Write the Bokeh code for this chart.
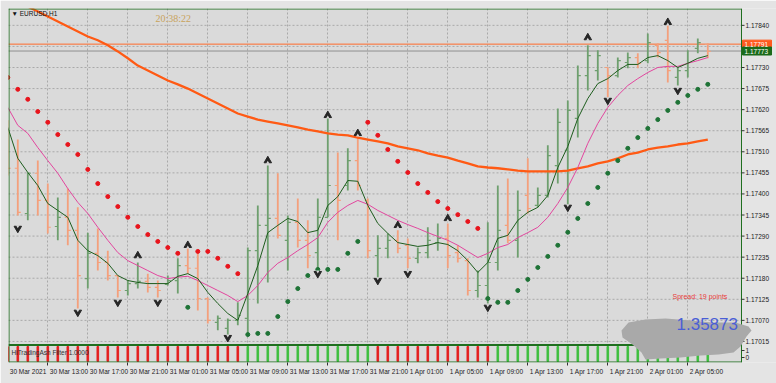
from bokeh.plotting import figure
from bokeh.models import Range1d, FixedTicker, Label, ColumnDataSource
from bokeh.embed import file_html
from bokeh.resources import INLINE
from bokeh.core.properties import value

# ---------------- data (EURUSD, H1) ----------------
time_labels = ["30 Mar 2021", "30 Mar 13:00", "30 Mar 17:00", "30 Mar 21:00", "31 Mar 01:00",
               "31 Mar 05:00", "31 Mar 09:00", "31 Mar 13:00", "31 Mar 17:00", "31 Mar 21:00",
               "1 Apr 01:00", "1 Apr 05:00", "1 Apr 09:00", "1 Apr 13:00", "1 Apr 17:00",
               "1 Apr 21:00", "2 Apr 01:00", "2 Apr 05:00"]
label_bars = [0, 4, 8, 12, 16, 20, 24, 28, 32, 36, 40, 44, 48, 52, 56, 60, 64, 68]
price_ticks = [1.17015, 1.17070, 1.17125, 1.17180, 1.17235, 1.17290, 1.17345, 1.17400,
               1.17455, 1.17510, 1.17565, 1.17620, 1.17675, 1.17730, 1.17785, 1.17840]

open_ = [1.17566, 1.17467, 1.17349, 1.17454, 1.17383, 1.17315, 1.17339, 1.17305, 1.17179, 1.17245,
         1.17221, 1.17187, 1.17148, 1.17166, 1.17172, 1.17156, 1.17164, 1.17174, 1.17213, 1.17206,
         1.17127, 1.17065, 1.17049, 1.17070, 1.17075, 1.17252, 1.17318, 1.17336, 1.17279, 1.17326,
         1.17279, 1.17247, 1.17339, 1.17422, 1.17422, 1.17487, 1.17383, 1.17239, 1.17258, 1.17279,
         1.17266, 1.17232, 1.17247, 1.17273, 1.17284, 1.17247, 1.17226, 1.17148, 1.17161, 1.17221,
         1.17318, 1.17279, 1.17396, 1.17370, 1.17396, 1.17474, 1.17514, 1.17597, 1.17709, 1.17722,
         1.17730, 1.17709, 1.17743, 1.17756, 1.17748, 1.17788, 1.17801, 1.17704, 1.17722, 1.17780,
         1.17790]
high = [1.17592, 1.17542, 1.17456, 1.17487, 1.17427, 1.17391, 1.17414, 1.17365, 1.17299, 1.17310,
        1.17252, 1.17187, 1.17174, 1.17221, 1.17192, 1.17174, 1.17187, 1.17232, 1.17258, 1.17245,
        1.17130, 1.17083, 1.17075, 1.17117, 1.17260, 1.17370, 1.17474, 1.17454, 1.17344, 1.17388,
        1.17331, 1.17388, 1.17610, 1.17508, 1.17519, 1.17560, 1.17388, 1.17292, 1.17297, 1.17305,
        1.17284, 1.17260, 1.17313, 1.17323, 1.17323, 1.17266, 1.17232, 1.17200, 1.17326, 1.17422,
        1.17440, 1.17409, 1.17493, 1.17417, 1.17527, 1.17623, 1.17644, 1.17735, 1.17788, 1.17775,
        1.17730, 1.17756, 1.17769, 1.17767, 1.17819, 1.17793, 1.17840, 1.17730, 1.17775, 1.17806,
        1.17793]
low = [1.17448, 1.17344, 1.17331, 1.17344, 1.17297, 1.17279, 1.17266, 1.17101, 1.17153, 1.17200,
       1.17174, 1.17130, 1.17135, 1.17153, 1.17143, 1.17130, 1.17161, 1.17140, 1.17192, 1.17096,
       1.17062, 1.17044, 1.17025, 1.17057, 1.17036, 1.17114, 1.17169, 1.17284, 1.17200, 1.17260,
       1.17206, 1.17195, 1.17339, 1.17279, 1.17409, 1.17409, 1.17232, 1.17174, 1.17232, 1.17245,
       1.17206, 1.17219, 1.17232, 1.17252, 1.17206, 1.17221, 1.17135, 1.17130, 1.17114, 1.17200,
       1.17271, 1.17234, 1.17349, 1.17365, 1.17391, 1.17427, 1.17365, 1.17547, 1.17670, 1.17696,
       1.17652, 1.17704, 1.17728, 1.17728, 1.17741, 1.17756, 1.17691, 1.17683, 1.17704, 1.17767,
       1.17754]
close = [1.17467, 1.17352, 1.17454, 1.17383, 1.17313, 1.17339, 1.17305, 1.17187, 1.17245, 1.17221,
         1.17187, 1.17148, 1.17166, 1.17172, 1.17156, 1.17148, 1.17174, 1.17213, 1.17206, 1.17127,
         1.17070, 1.17075, 1.17070, 1.17083, 1.17252, 1.17318, 1.17336, 1.17292, 1.17326, 1.17279,
         1.17239, 1.17339, 1.17422, 1.17383, 1.17487, 1.17422, 1.17252, 1.17258, 1.17279, 1.17258,
         1.17232, 1.17247, 1.17279, 1.17284, 1.17239, 1.17232, 1.17148, 1.17161, 1.17221, 1.17305,
         1.17279, 1.17357, 1.17362, 1.17396, 1.17500, 1.17587, 1.17618, 1.17709, 1.17761, 1.17761,
         1.17709, 1.17748, 1.17756, 1.17741, 1.17795, 1.17769, 1.17722, 1.17722, 1.17743, 1.17795,
         1.17772]
sar = [1.17704, 1.17673, 1.17647, 1.17615, 1.17587, 1.17555, 1.17529, 1.17503, 1.17464, 1.17427,
       1.17393, 1.17367, 1.17339, 1.17315, 1.17294, 1.17276, 1.17260, 1.17245, 1.17104, 1.17250,
       1.17250, 1.17232, 1.17211, 1.17192, 1.17033, 1.17036, 1.17036, 1.17080, 1.17119, 1.17153,
       1.17187, 1.17203, 1.17203, 1.17203, 1.17245, 1.17276, 1.17587, 1.17553, 1.17516, 1.17485,
       1.17456, 1.17427, 1.17404, 1.17380, 1.17362, 1.17346, 1.17328, 1.17310, 1.17127, 1.17117,
       1.17117, 1.17148, 1.17177, 1.17208, 1.17237, 1.17266, 1.17300, 1.17336, 1.17375, 1.17417,
       1.17454, 1.17487, 1.17519, 1.17547, 1.17571, 1.17594, 1.17618, 1.17639, 1.17657, 1.17673,
       1.17686]
ma_fast = [1.17574, 1.17493, 1.17456, 1.17422, 1.17375, 1.17357, 1.17339, 1.17279, 1.17252, 1.17239,
           1.17219, 1.17187, 1.17174, 1.17169, 1.17166, 1.17166, 1.17166, 1.17185, 1.17192, 1.17179,
           1.17143, 1.17114, 1.17088, 1.17070, 1.17140, 1.17213, 1.17299, 1.17318, 1.17336, 1.17328,
           1.17299, 1.17305, 1.17370, 1.17393, 1.17435, 1.17433, 1.17370, 1.17323, 1.17297, 1.17273,
           1.17268, 1.17263, 1.17266, 1.17273, 1.17268, 1.17252, 1.17226, 1.17195, 1.17221, 1.17284,
           1.17292, 1.17331, 1.17352, 1.17365, 1.17396, 1.17469, 1.17524, 1.17597, 1.17649, 1.17688,
           1.17701, 1.17722, 1.17738, 1.17738, 1.17756, 1.17761, 1.17748, 1.17730, 1.17741, 1.17754,
           1.17761]
ma_slow = [1.17626, 1.17579, 1.17558, 1.17521, 1.17487, 1.17454, 1.17414, 1.17378, 1.17349, 1.17313,
           1.17279, 1.17247, 1.17226, 1.17213, 1.17200, 1.17187, 1.17179, 1.17183, 1.17185, 1.17174,
           1.17161, 1.17148, 1.17135, 1.17119, 1.17135, 1.17161, 1.17195, 1.17219, 1.17234, 1.17252,
           1.17268, 1.17286, 1.17326, 1.17352, 1.17370, 1.17383, 1.17373, 1.17357, 1.17344, 1.17331,
           1.17320, 1.17310, 1.17299, 1.17289, 1.17279, 1.17266, 1.17250, 1.17234, 1.17245, 1.17260,
           1.17268, 1.17286, 1.17299, 1.17313, 1.17339, 1.17375, 1.17417, 1.17469, 1.17532, 1.17584,
           1.17626, 1.17657, 1.17683, 1.17701, 1.17717, 1.17730, 1.17733, 1.17733, 1.17741, 1.17748,
           1.17756]
ma_long = [1.17915, 1.17902, 1.17889, 1.17876, 1.17863, 1.17850, 1.17837, 1.17824, 1.17811, 1.17801,
           1.17788, 1.17772, 1.17754, 1.17735, 1.17722, 1.17709, 1.17696, 1.17686, 1.17675, 1.17662,
           1.17649, 1.17636, 1.17623, 1.17610, 1.17602, 1.17594, 1.17589, 1.17584, 1.17579, 1.17574,
           1.17568, 1.17563, 1.17558, 1.17555, 1.17553, 1.17547, 1.17542, 1.17537, 1.17532, 1.17524,
           1.17519, 1.17514, 1.17506, 1.17500, 1.17495, 1.17487, 1.17480, 1.17472, 1.17469, 1.17467,
           1.17464, 1.17461, 1.17459, 1.17459, 1.17459, 1.17459, 1.17461, 1.17467, 1.17472, 1.17480,
           1.17485, 1.17493, 1.17503, 1.17508, 1.17516, 1.17521, 1.17524, 1.17529, 1.17532, 1.17537,
           1.17542]
frac_up_bar = [13, 18, 26, 32, 35, 39, 44, 58, 66]
frac_up_price = [1.17239, 1.17266, 1.17487, 1.17605, 1.17558, 1.17318, 1.17336, 1.17808, 1.17848]
frac_dn_bar = [1, 7, 11, 15, 22, 31, 37, 40, 48, 56, 60, 67]
frac_dn_price = [1.17310, 1.17091, 1.17117, 1.17117, 1.17025, 1.17192, 1.17174, 1.17192,
                 1.17104, 1.17365, 1.17644, 1.17670]
sub_signal = [-1, -1, -1, -1, -1, -1, -1, -1, -1, -1, -1, -1, -1, -1, -1, -1, -1, -1, -1, -1,
              -1, -1, -1, -1, 1, 1, 1, 1, 1, 1, 1, 1, 1, 1, 1, 1, 1, -1, -1, -1,
              -1, -1, -1, -1, -1, -1, -1, -1, -1, 1, 1, 1, 1, 1, 1, 1, 1, 1, 1, 1,
              1, 1, 1, 1, 1, 1, 1, 1, 1, 1, 1]
sub_scale_labels = ["1", "0"]
ask_price = 1.17791
bid_price = 1.17773
spread_points = 19
other_quote = "1.35873"

# ---------------- layout helpers (pixel -> data, for placement only) ----------------
PPX = 0.0000261


def py(ypix):
    return 1.17730 + (67 - ypix) * PPX


def sx(xpix):
    return (xpix - 7.3) / 10.0


FONT = "Liberation Sans"
BG = "#dadada"
OUTER = "#e4e4e4"
FRAME_GREEN = "#1f6f1f"
GRID = "#a9a9a9"
BULL = "#6e9f6e"
BEAR = "#f4a07c"
ARROW = "#262626"

bars = list(range(len(close)))
XL, XR = sx(8), sx(741)          # chart window (left of the price scale)
YB, YT = py(362), py(8)
sub_end = (361 - 8) / 15.0
sub_start = sub_end - 354 / 15.0

p = figure(width=776, height=383, output_backend="svg", toolbar_location=None,
           x_range=Range1d(sx(8), sx(776)), y_range=Range1d(YB, YT),
           y_axis_location=None, min_border_left=8, min_border_top=8,
           min_border_right=0, min_border_bottom=21,
           background_fill_color=OUTER, border_fill_color=OUTER)
p.extra_y_ranges = {"sub": Range1d(sub_start, sub_end)}
p.outline_line_color = None

# chart window background
p.quad(left=[XL], right=[XR], bottom=[YB], top=[YT], color=BG, level="image")

# grid
p.xgrid.ticker = FixedTicker(ticks=label_bars)
p.xgrid.grid_line_color = GRID
p.xgrid.grid_line_dash = "2 2"
p.ygrid.visible = False
n_t = len(price_ticks)
p.segment(x0=[XL] * n_t, x1=[XR] * n_t, y0=price_ticks, y1=price_ticks,
          line_color=GRID, line_dash="2 2", line_width=1, level="underlay")

# x axis (time) - labels left-aligned after their tick marks
CW = {' ': 0.278, ':': 0.278, 'M': 0.833, 'a': 0.556, 'r': 0.333, 'A': 0.667, 'p': 0.556}


def text_w(s, fs):
    return sum(CW.get(ch, 0.556) for ch in s) * fs


centers = [round(b + (text_w(t, 6.5) / 2 + 2) / 10.0, 4) for b, t in zip(label_bars, time_labels)]
xa = p.xaxis[0]
xa.ticker = FixedTicker(ticks=centers, minor_ticks=label_bars)
xa.major_label_overrides = dict(zip(centers, time_labels))
xa.major_tick_out = 0
xa.major_tick_in = 0
xa.minor_tick_out = 3
xa.minor_tick_in = 0
xa.minor_tick_line_color = "#333333"
xa.axis_line_color = None
xa.major_label_standoff = 2
xa.major_label_text_font = FONT
xa.major_label_text_font_size = "6.5px"
xa.major_label_text_color = "#222222"

# sub-window indicator bars
sub_cols = ["#3fbf3f" if s > 0 else "#e41e1e" for s in sub_signal]
sub_h = [abs(s) for s in sub_signal]
p.vbar(x=bars, top=sub_h, bottom=0, width=0.16, color=sub_cols, y_range_name="sub")

# bid / ask lines
p.segment(x0=[XL, XL], x1=[XR, XR], y0=[bid_price, ask_price], y1=[bid_price, ask_price],
          line_color=["#8f8f8f", "#ff6a2a"], line_width=1)

# OHLC bars
cols = [BULL if c >= o else BEAR for o, c in zip(open_, close)]
src = ColumnDataSource(dict(x=bars, o=open_, h=high, l=low, c=close, col=cols,
                            xl=[b - 0.3 for b in bars], xr=[b + 0.3 for b in bars]))
p.segment(x0="x", y0="l", x1="x", y1="h", color="col", line_width=1.8, source=src)
p.segment(x0="xl", y0="o", x1="x", y1="o", color="col", line_width=1.2, source=src)
p.segment(x0="x", y0="c", x1="xr", y1="c", color="col", line_width=1.2, source=src)

# moving averages
p.line(bars, ma_long, color="#ff5a14", line_width=2.3)
p.line(bars, ma_slow, color="#e2469e", line_width=1)
p.line(bars, ma_fast, color="#1d5c1d", line_width=1)

# parabolic SAR
sar_cols = ["#e8141c" if s > c else "#1e7336" for s, c in zip(sar, close)]
p.scatter(bars, sar, size=4, color=sar_cols, marker="circle")

# fractals (arrowheads with a notch, like the terminal's symbols)
notch = 2.2 * PPX
p.scatter(frac_up_bar, frac_up_price, marker="triangle", size=7.5, fill_color=ARROW, line_color=ARROW)
p.scatter(frac_up_bar, [v - notch for v in frac_up_price], marker="triangle", size=3.5,
          fill_color=BG, line_color=None)
p.scatter(frac_dn_bar, frac_dn_price, marker="inverted_triangle", size=7.5, fill_color=ARROW, line_color=ARROW)
p.scatter(frac_dn_bar, [v + notch for v in frac_dn_price], marker="inverted_triangle", size=3.5,
          fill_color=BG, line_color=None)

# window borders (main window, separator, sub window)
p.segment(x0=[XL, XL, XL], x1=[XR, XR, XR], y0=[py(8.5), py(344.5), py(361.5)],
          y1=[py(8.5), py(344.5), py(361.5)], line_color=FRAME_GREEN, line_width=[1, 2, 1])
p.segment(x0=[sx(8.5), XR], x1=[sx(8.5), XR], y0=[YB, YB], y1=[YT, YT],
          line_color=FRAME_GREEN, line_width=1)

# price scale on the right of the chart window
p.segment(x0=[XR] * n_t, x1=[sx(744)] * n_t, y0=price_ticks, y1=price_ticks, line_color="#333333")
p.text(x=[sx(745)] * n_t, y=price_ticks, text=[f"{t:.5f}" for t in price_ticks],
       text_font=value(FONT), text_font_size="6.5px", text_baseline="middle", text_color="#222222")
p.text(x=[sx(745)] * 2, y=[py(350), py(357)], text=sub_scale_labels,
       text_font=value(FONT), text_font_size="6.5px", text_baseline="middle", text_color="#222222")
p.segment(x0=[XR] * 2, x1=[sx(744)] * 2, y0=[py(350), py(357)], y1=[py(350), py(357)], line_color="#333333")

# bid / ask price boxes
h2 = 4 * PPX
p.quad(left=[sx(742)] * 2, right=[sx(771)] * 2, bottom=[ask_price - h2, bid_price - h2],
       top=[ask_price + h2, bid_price + h2], color=["#ff5a1e", "#1a6b1a"])
p.text(x=[sx(744)] * 2, y=[ask_price, bid_price], text=[f"{ask_price:.5f}", f"{bid_price:.5f}"],
       text_font=value(FONT), text_font_size="6.5px", text_baseline="middle", text_color="white")

# gray smudge in the lower-right corner
blob_px = [(621, 330), (628, 322), (645, 319), (665, 318), (690, 320), (712, 322), (735, 322),
           (748, 326), (751, 330), (746, 336), (740, 346), (733, 352), (718, 354), (700, 355),
           (680, 357), (660, 358), (645, 359), (641, 352), (632, 344), (622, 337)]
p.patch([sx(a) for a, b in blob_px], [py(b) for a, b in blob_px], color="#a9a9a9", line_color=None)

# texts
p.add_layout(Label(x=sx(11), y=py(13), text="\u25bc EURUSD,H1", text_font=FONT, text_font_size="6.5px",
                   text_baseline="middle", text_color="#111111"))
p.add_layout(Label(x=sx(155), y=py(18), text="20:38:22", text_font="Liberation Serif", text_font_size="10px",
                   text_baseline="middle", text_color="#c9a35a"))
p.add_layout(Label(x=sx(672), y=py(296), text=f"Spread: {spread_points} points", text_font=FONT,
                   text_font_size="7px", text_baseline="middle", text_color="#e83a3a"))
p.add_layout(Label(x=sx(676), y=py(323), text=other_quote, text_font=FONT, text_font_size="17px",
                   text_baseline="alphabetic", text_color="#4a5ed6"))
p.add_layout(Label(x=sx(11), y=py(352), text="HiTradingAsh Filter 1.0000", text_font=FONT,
                   text_font_size="6.5px", text_baseline="middle", text_color="#333333"))

open("out.html", "w").write(file_html(p, INLINE))
